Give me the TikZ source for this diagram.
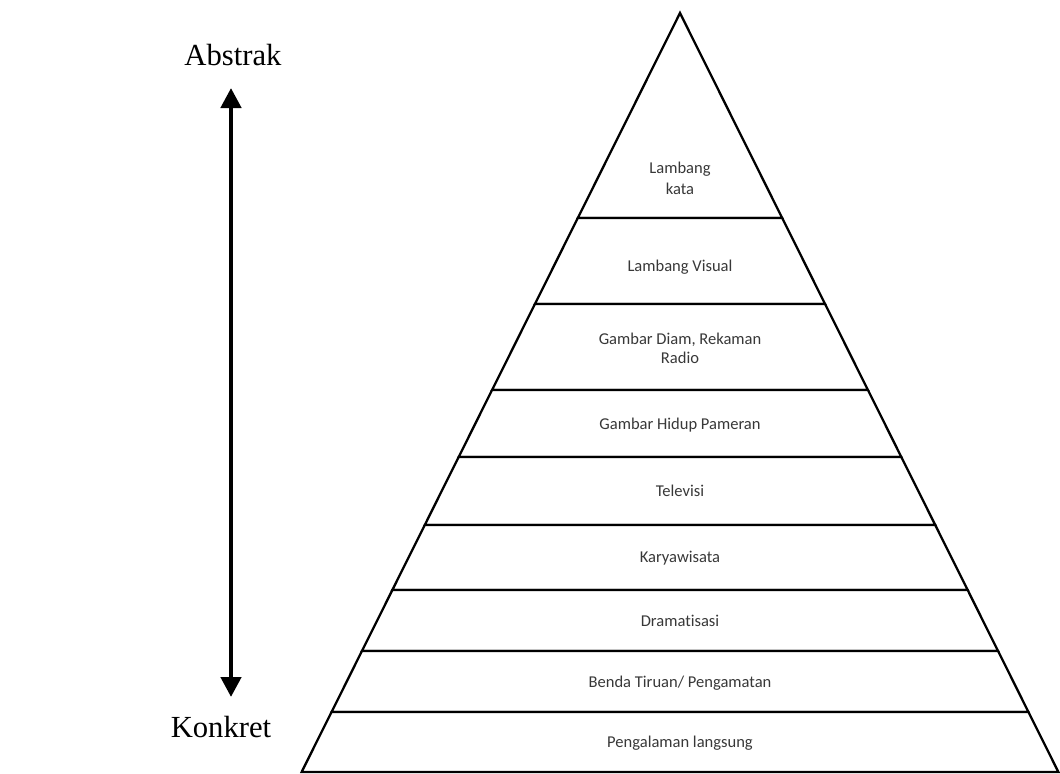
\documentclass[tikz,border=0pt]{standalone}
\usepackage{fontspec}
\setmainfont{Liberation Serif}
\newfontfamily\lblfont[Ligatures={NoCommon}]{Carlito}
\usetikzlibrary{arrows.meta}
\begin{document}
\begin{tikzpicture}[x=0.75pt,y=-0.75pt,
  layer/.style={draw=black,line width=1.7pt,fill=white,line join=miter},
  lbl/.style={font=\lblfont\fontsize{12.4}{14}\selectfont,text=black!78,align=center},
  side/.style={font=\fontsize{23}{26}\selectfont,text=black},
  axis/.style={line width=3.4pt,{Triangle[width=15pt,length=15pt]}-{Triangle[width=15pt,length=15pt]}}]
\useasboundingbox (0,0) rectangle (1060,774);
\def\cx{680}
\def\k{0.4985}
% top triangle
\draw[layer] (\cx,13) -- ({\cx+\k*205},218) -- ({\cx-\k*205},218) -- cycle;
% trapezoid layers
\foreach \a/\b in {218/304,304/390,390/457,457/525,525/590,590/651,651/712,712/772}{
  \draw[layer] ({\cx-\k*(\a-13)},\a) -- ({\cx+\k*(\a-13)},\a) -- ({\cx+\k*(\b-13)},\b) -- ({\cx-\k*(\b-13)},\b) -- cycle;
}
% labels
\node[lbl] (l1) at (\cx,178) {Lambang\\[2pt]kata};
\node[lbl] (l2) at (\cx,267) {Lambang Visual};
\node[lbl] (l3) at (\cx,348) {Gambar Diam, Rekaman\\Radio};
\node[lbl] (l4) at (\cx,425) {Gambar Hidup Pameran};
\node[lbl] (l5) at (\cx,491) {Televisi};
\node[lbl] (l6) at (\cx,558) {Karyawisata};
\node[lbl] (l7) at (\cx,621) {Dramatisasi};
\node[lbl] (l8) at (\cx,683) {Benda Tiruan/ Pengamatan};
\node[lbl] (l9) at (\cx,743) {Pengalaman langsung};
% axis
\node[side] (abs) at (233,55) {Abstrak};
\node[side] (kon) at (221,727) {Konkret};
\coordinate (top) at (231,88);
\coordinate (bot) at (231,697);
\draw[axis] (top) -- (bot);
\end{tikzpicture}
\end{document}
